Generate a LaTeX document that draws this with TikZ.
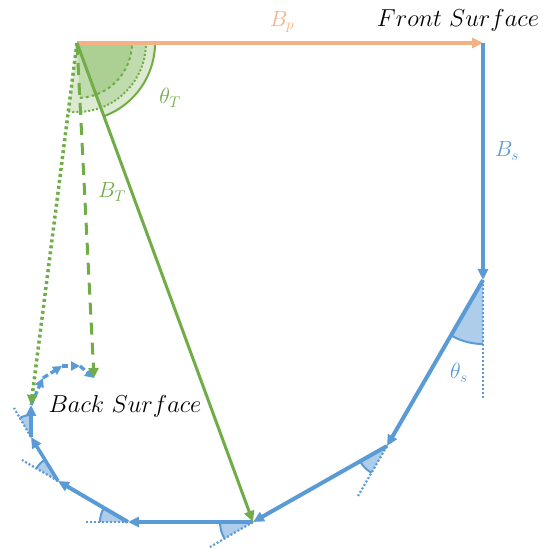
\RequirePackage{fix-cm}
\documentclass[tikz,border=0pt]{standalone}
\usetikzlibrary{arrows.meta,angles}
\definecolor{cblue}{HTML}{5B9BD5}
\definecolor{corange}{HTML}{F4B183}
\definecolor{cgreen}{HTML}{70AD47}
\begin{document}
\begin{tikzpicture}[x=1pt,y=1pt,
  bline/.style={draw=cblue,line width=4pt,-{Triangle[length=11pt,width=10pt]}},
  bsmall/.style={draw=cblue,line width=3.3pt,dash pattern=on 6pt off 3pt,-{Triangle[length=9pt,width=9pt]}},
  ext/.style={draw=cblue,line width=2.2pt,dash pattern=on 2pt off 2pt},
  wedge/.style={draw=cblue,fill=cblue!50,line width=2pt},
  gsect/.style={fill=cgreen,fill opacity=0.25,draw=cgreen,line width=2pt},
  lbl/.style={font=\fontsize{22}{26}\selectfont},
  ttl/.style={font=\fontsize{24.5}{28}\selectfont}]
\useasboundingbox (0,0) rectangle (542,549);
\coordinate (O) at (77,506);
\coordinate (F) at (483,506);
\coordinate (P0) at (483,269);
\coordinate (P1) at (387,103);
\coordinate (P2) at (253,27);
\coordinate (P3) at (128,27);
\coordinate (P4) at (58,68);
\coordinate (P5) at (31,112);
\coordinate (P6) at (31,144);
\coordinate (Q1) at (43,171);
\coordinate (Q2) at (62,183);
\coordinate (Q3) at (80,183);
\coordinate (Q4) at (94,171);
\coordinate (E0) at (483,151);
\coordinate (E1) at (358,53);
\coordinate (E2) at (210,2);
\coordinate (E3) at (85,27);
\coordinate (E4) at (22,89);
\coordinate (E5) at (14,141);
% green sectors at O
\pic[gsect,angle radius=78pt] {angle=P2--O--F};
\pic[gsect,dotted,angle radius=69pt] {angle=P6--O--F};
\pic[gsect,dashed,angle radius=55pt] {angle=Q4--O--F};
% blue wedges
\pic[wedge,angle radius=64pt] {angle=P1--P0--E0};
\pic[wedge,angle radius=31pt] {angle=P2--P1--E1};
\pic[wedge,angle radius=33pt] {angle=P3--P2--E2};
\pic[wedge,angle radius=28pt] {angle=P4--P3--E3};
\pic[wedge,angle radius=25pt] {angle=P5--P4--E4};
\pic[wedge,angle radius=22pt] {angle=P6--P5--E5};
% extensions
\draw[ext] (P0) -- (E0);
\draw[ext] (P1) -- (E1);
\draw[ext] (P2) -- (E2);
\draw[ext] (P3) -- (E3);
\draw[ext] (P4) -- (E4);
\draw[ext] (P5) -- (E5);
% main path
\draw[draw=corange,line width=4pt,-{Triangle[length=11pt,width=10pt]}] (O) -- (F);
\draw[bline] (F) -- (P0);
\draw[bline] (P0) -- (P1);
\draw[bline] (P1) -- (P2);
\draw[bline] (P2) -- (P3);
\draw[bline] (P3) -- (P4);
\draw[bline,line width=3.5pt] (P4) -- (P5);
\draw[bline,line width=3.5pt] (P5) -- (P6);
\draw[bsmall] (P6) -- (Q1);
\draw[bsmall] (Q1) -- (Q2);
\draw[bsmall] (Q2) -- (Q3);
\draw[bsmall] (Q3) -- (Q4);
% green lines
\draw[draw=cgreen,line width=3pt,-{Triangle[length=11pt,width=10pt]}] (O) -- (P2);
\draw[draw=cgreen,line width=3pt,dash pattern=on 12pt off 8pt,-{Triangle[length=10pt,width=10pt]}] (O) -- (Q4);
\draw[draw=cgreen,line width=3.5pt,dash pattern=on 3pt off 3pt,-{Triangle[length=10pt,width=10pt]}] (O) -- (P6);
% labels
\node[lbl,text=corange] (lbp) at (282,527) {$B_p$};
\node[lbl,text=cblue] (lbs) at (507,398) {$B_s$};
\node[lbl,text=cgreen] (lbt) at (112,357) {$B_T$};
\node[lbl,text=cgreen] (ltt) at (170,451) {$\theta_T$};
\node[lbl,text=cblue] (lts) at (459,176) {$\theta_s$};
\node[ttl] (front) at (458,529) {$Front\ Surface$};
\node[ttl] (back) at (125,143) {$Back\ Surface$};
\end{tikzpicture}
\end{document}
